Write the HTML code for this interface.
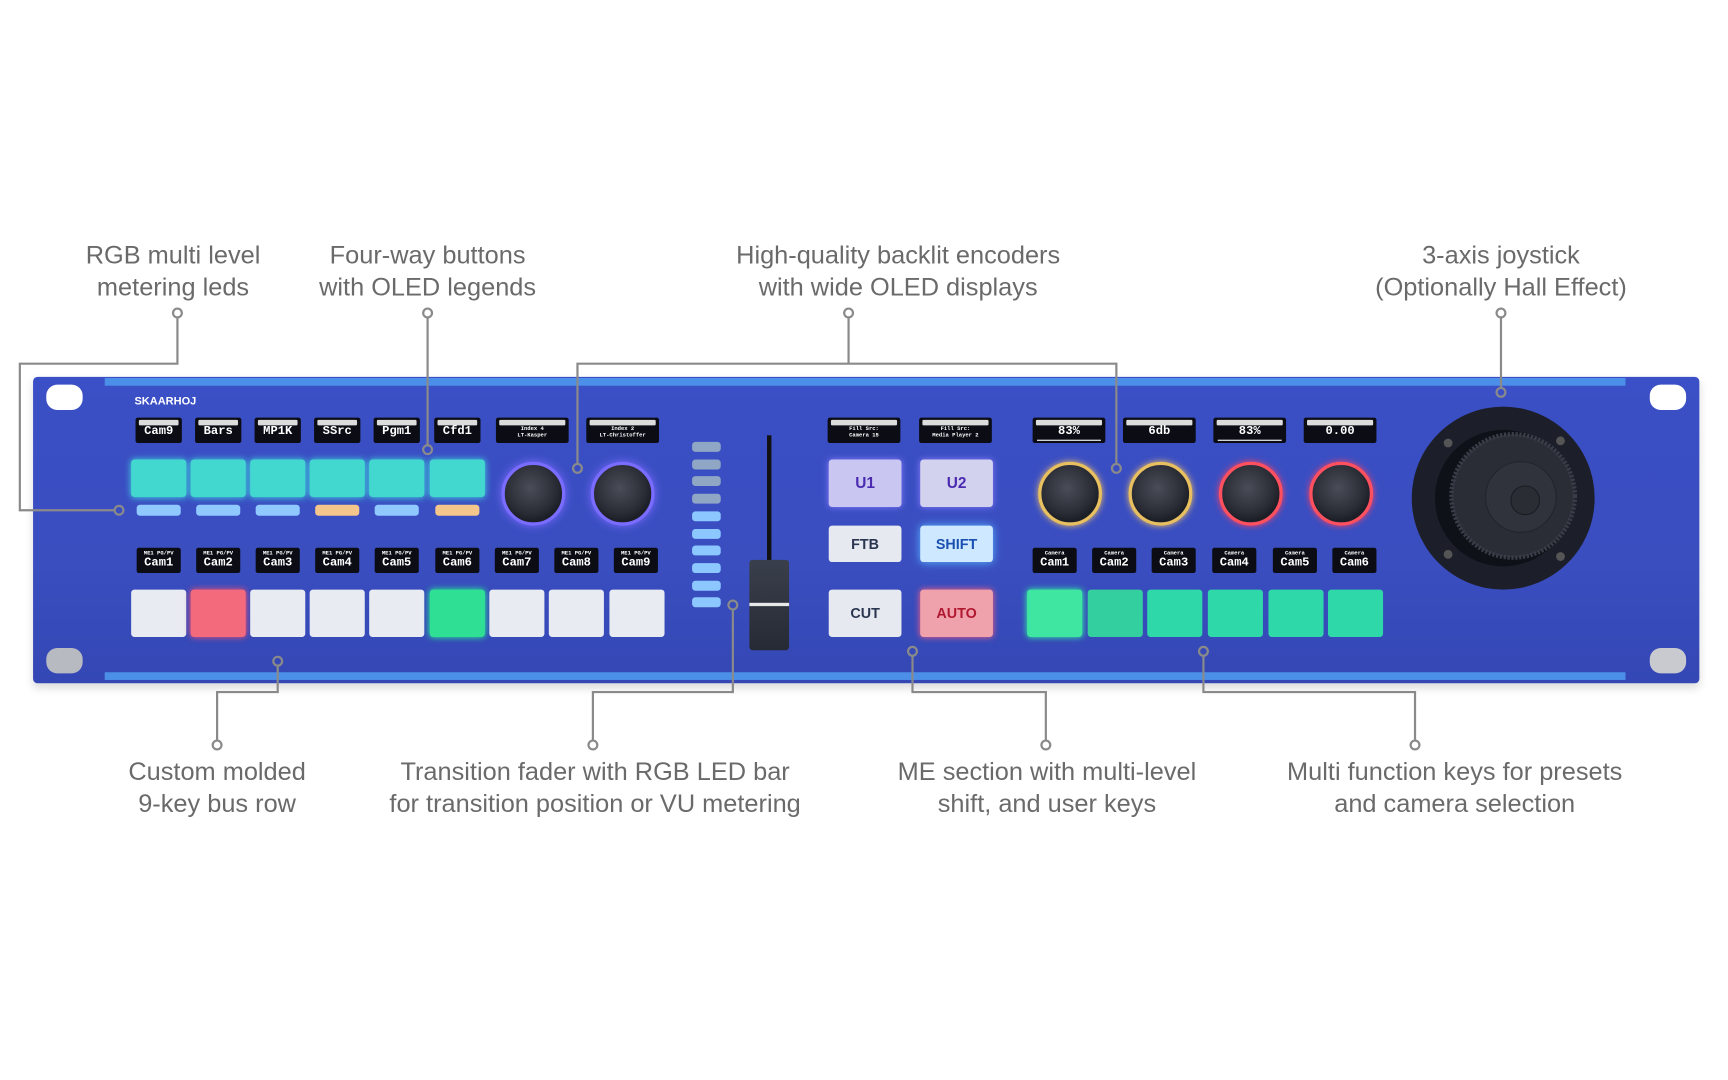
<!DOCTYPE html>
<html><head><meta charset="utf-8"><style>
html,body{margin:0;padding:0;background:#fff;width:1728px;height:1080px;overflow:hidden}
#s{position:absolute;left:0;top:0;width:1568px;height:980px;transform:scale(1.10204);transform-origin:0 0;font-family:"Liberation Sans",sans-serif}
.lbl{position:absolute;color:#6a6a6a;font-size:23px;line-height:29px;text-align:center;white-space:nowrap;transform:translateX(-50%)}
.a{position:absolute}
.oled{position:absolute;background:#0b0c14;border-radius:2px;color:#fff;font-family:"Liberation Mono",monospace;text-align:center;overflow:hidden}
.oled .t{margin:2px 3px 0;height:5px;background:#dcdcdc;border-radius:1px}
.oled .v{font-size:11px;line-height:13px;font-weight:bold}
.oled .sm{font-size:5px;line-height:6px;font-weight:bold}
.btn{position:absolute;border-radius:3px}
.enc{position:absolute;border-radius:50%;background:radial-gradient(circle at 45% 40%,#4a4d58 0,#2a2c35 55%,#1d1f27 70%)}
</style></head><body><div id="s">
<div class="lbl" style="left:157px;top:217px">RGB multi level<br>metering leds</div>
<div class="lbl" style="left:388px;top:217px">Four-way buttons<br>with OLED legends</div>
<div class="lbl" style="left:815px;top:217px">High-quality backlit encoders<br>with wide OLED displays</div>
<div class="lbl" style="left:1362px;top:217px">3-axis joystick<br>(Optionally Hall Effect)</div>
<div class="lbl" style="left:197px;top:686px">Custom molded<br>9-key bus row</div>
<div class="lbl" style="left:540px;top:686px">Transition fader with RGB LED bar<br>for transition position or VU metering</div>
<div class="lbl" style="left:950px;top:686px">ME section with multi-level<br>shift, and user keys</div>
<div class="lbl" style="left:1320px;top:686px">Multi function keys for presets<br>and camera selection</div>

<!-- panel -->
<div class="a" style="left:30px;top:342px;width:1512px;height:278px;background:linear-gradient(180deg,#3b4fc6,#3a4ec0 60%,#3447b4);border-radius:4px;box-shadow:0 4px 8px rgba(0,0,0,.15)"></div>
<div class="a" style="left:95px;top:343px;width:1380px;height:7px;background:#4c8fe8"></div>
<div class="a" style="left:95px;top:610px;width:1380px;height:7px;background:#4c8fe8"></div>
<div class="a" style="left:42px;top:349px;width:33px;height:23px;background:#fff;border-radius:10px"></div>
<div class="a" style="left:42px;top:588px;width:33px;height:23px;background:#b8bac2;border-radius:10px"></div>
<div class="a" style="left:1497px;top:349px;width:33px;height:23px;background:#fff;border-radius:10px"></div>
<div class="a" style="left:1497px;top:588px;width:33px;height:23px;background:#c8cad0;border-radius:10px"></div>
<div class="a" style="left:122px;top:359px;color:#fff;font-size:10px;font-weight:bold;letter-spacing:0">SKAARHOJ</div>

<!-- top OLEDs left -->
<div class="oled" style="left:123px;top:379px;width:42px;height:23px"><div class="t"></div><div class="v">Cam9</div></div>
<div class="oled" style="left:177px;top:379px;width:42px;height:23px"><div class="t"></div><div class="v">Bars</div></div>
<div class="oled" style="left:231px;top:379px;width:42px;height:23px"><div class="t"></div><div class="v">MP1K</div></div>
<div class="oled" style="left:285px;top:379px;width:42px;height:23px"><div class="t"></div><div class="v">SSrc</div></div>
<div class="oled" style="left:339px;top:379px;width:42px;height:23px"><div class="t"></div><div class="v">Pgm1</div></div>
<div class="oled" style="left:394px;top:379px;width:42px;height:23px"><div class="t"></div><div class="v">Cfd1</div></div>
<div class="oled" style="left:450px;top:379px;width:66px;height:23px"><div class="t"></div><div class="sm">Index 4<br>LT-Kasper</div></div>
<div class="oled" style="left:532px;top:379px;width:66px;height:23px"><div class="t"></div><div class="sm">Index 2<br>LT-Christoffer</div></div>

<!-- teal buttons -->
<div class="btn" style="left:119px;top:417px;width:50px;height:34px;background:#43d8cf;box-shadow:0 0 6px #3fe0e0"></div>
<div class="btn" style="left:173px;top:417px;width:50px;height:34px;background:#43d8cf;box-shadow:0 0 6px #3fe0e0"></div>
<div class="btn" style="left:227px;top:417px;width:50px;height:34px;background:#43d8cf;box-shadow:0 0 6px #3fe0e0"></div>
<div class="btn" style="left:281px;top:417px;width:50px;height:34px;background:#43d8cf;box-shadow:0 0 6px #3fe0e0"></div>
<div class="btn" style="left:335px;top:417px;width:50px;height:34px;background:#43d8cf;box-shadow:0 0 6px #3fe0e0"></div>
<div class="btn" style="left:390px;top:417px;width:50px;height:34px;background:#43d8cf;box-shadow:0 0 6px #3fe0e0"></div>
<!-- leds -->
<div class="btn" style="left:124px;top:458px;width:40px;height:10px;background:#8fc9ff"></div>
<div class="btn" style="left:178px;top:458px;width:40px;height:10px;background:#8fc9ff"></div>
<div class="btn" style="left:232px;top:458px;width:40px;height:10px;background:#8fc9ff"></div>
<div class="btn" style="left:286px;top:458px;width:40px;height:10px;background:#f5c68c"></div>
<div class="btn" style="left:340px;top:458px;width:40px;height:10px;background:#8fc9ff"></div>
<div class="btn" style="left:395px;top:458px;width:40px;height:10px;background:#f5c68c"></div>
<!-- purple encoders -->
<div class="enc" style="left:455px;top:419px;width:52px;height:52px;border:3px solid #7a6cff;box-shadow:0 0 8px #7d6aff"></div>
<div class="enc" style="left:536px;top:419px;width:52px;height:52px;border:3px solid #7a6cff;box-shadow:0 0 8px #7d6aff"></div>

<!-- bottom OLEDs -->
<div class="oled" style="left:124px;top:497px;width:40px;height:23px"><div class="sm" style="margin-top:2px">ME1 PG/PV</div><div class="v">Cam1</div></div>
<div class="oled" style="left:178px;top:497px;width:40px;height:23px"><div class="sm" style="margin-top:2px">ME1 PG/PV</div><div class="v">Cam2</div></div>
<div class="oled" style="left:232px;top:497px;width:40px;height:23px"><div class="sm" style="margin-top:2px">ME1 PG/PV</div><div class="v">Cam3</div></div>
<div class="oled" style="left:286px;top:497px;width:40px;height:23px"><div class="sm" style="margin-top:2px">ME1 PG/PV</div><div class="v">Cam4</div></div>
<div class="oled" style="left:340px;top:497px;width:40px;height:23px"><div class="sm" style="margin-top:2px">ME1 PG/PV</div><div class="v">Cam5</div></div>
<div class="oled" style="left:395px;top:497px;width:40px;height:23px"><div class="sm" style="margin-top:2px">ME1 PG/PV</div><div class="v">Cam6</div></div>
<div class="oled" style="left:449px;top:497px;width:40px;height:23px"><div class="sm" style="margin-top:2px">ME1 PG/PV</div><div class="v">Cam7</div></div>
<div class="oled" style="left:503px;top:497px;width:40px;height:23px"><div class="sm" style="margin-top:2px">ME1 PG/PV</div><div class="v">Cam8</div></div>
<div class="oled" style="left:557px;top:497px;width:40px;height:23px"><div class="sm" style="margin-top:2px">ME1 PG/PV</div><div class="v">Cam9</div></div>
<!-- bus buttons -->
<div class="btn" style="left:119px;top:535px;width:50px;height:43px;background:#e9ebf2"></div>
<div class="btn" style="left:173px;top:535px;width:50px;height:43px;background:#f26a7c;box-shadow:0 0 6px #ff5070"></div>
<div class="btn" style="left:227px;top:535px;width:50px;height:43px;background:#e9ebf2"></div>
<div class="btn" style="left:281px;top:535px;width:50px;height:43px;background:#e9ebf2"></div>
<div class="btn" style="left:335px;top:535px;width:50px;height:43px;background:#e9ebf2"></div>
<div class="btn" style="left:390px;top:535px;width:50px;height:43px;background:#2fe094;box-shadow:0 0 6px #20ff90"></div>
<div class="btn" style="left:444px;top:535px;width:50px;height:43px;background:#e9ebf2"></div>
<div class="btn" style="left:498px;top:535px;width:50px;height:43px;background:#e9ebf2"></div>
<div class="btn" style="left:553px;top:535px;width:50px;height:43px;background:#e9ebf2"></div>

<!-- LED bar -->
<div class="btn" style="left:628px;top:401px;width:26px;height:9px;background:#8fa6c4"></div>
<div class="btn" style="left:628px;top:417px;width:26px;height:9px;background:#8fa6c4"></div>
<div class="btn" style="left:628px;top:432px;width:26px;height:9px;background:#8fa6c4"></div>
<div class="btn" style="left:628px;top:448px;width:26px;height:9px;background:#8fa6c4"></div>
<div class="btn" style="left:628px;top:464px;width:26px;height:9px;background:#8cc8ff"></div>
<div class="btn" style="left:628px;top:480px;width:26px;height:9px;background:#8cc8ff"></div>
<div class="btn" style="left:628px;top:495px;width:26px;height:9px;background:#8cc8ff"></div>
<div class="btn" style="left:628px;top:511px;width:26px;height:9px;background:#8cc8ff"></div>
<div class="btn" style="left:628px;top:527px;width:26px;height:9px;background:#8cc8ff"></div>
<div class="btn" style="left:628px;top:542px;width:26px;height:9px;background:#8cc8ff"></div>
<!-- fader -->
<div class="a" style="left:696px;top:395px;width:4px;height:120px;background:#111"></div>
<div class="a" style="left:680px;top:508px;width:36px;height:82px;background:linear-gradient(180deg,#3a3f4c,#262a34);border-radius:3px"></div>
<div class="a" style="left:680px;top:547px;width:36px;height:3px;background:#e8e8e8"></div>

<!-- ME section -->
<div class="oled" style="left:751px;top:379px;width:66px;height:23px"><div class="t"></div><div class="sm">Fill Src:<br>Camera 15</div></div>
<div class="oled" style="left:834px;top:379px;width:66px;height:23px"><div class="t"></div><div class="sm">Fill Src:<br>Media Player 2</div></div>
<div class="btn" style="left:752px;top:417px;width:66px;height:43px;background:#c9c6f2;box-shadow:0 0 6px #8a7bff;color:#4a2bb0;font-weight:bold;font-size:14px;line-height:43px;text-align:center">U1</div>
<div class="btn" style="left:835px;top:417px;width:66px;height:43px;background:#d3d2ee;box-shadow:0 0 6px #8a7bff;color:#4a2bb0;font-weight:bold;font-size:14px;line-height:43px;text-align:center">U2</div>
<div class="btn" style="left:752px;top:477px;width:66px;height:33px;background:#e6e9f0;color:#2a3550;font-weight:bold;font-size:13px;line-height:33px;text-align:center">FTB</div>
<div class="btn" style="left:835px;top:477px;width:66px;height:33px;background:#cde8ff;box-shadow:0 0 8px #5ab4ff;color:#1a50b0;font-weight:bold;font-size:13px;line-height:33px;text-align:center">SHIFT</div>
<div class="btn" style="left:752px;top:535px;width:66px;height:43px;background:#e6e9f0;color:#2a3550;font-weight:bold;font-size:13px;line-height:43px;text-align:center">CUT</div>
<div class="btn" style="left:835px;top:535px;width:66px;height:43px;background:#f0a2ac;box-shadow:0 0 6px #ff6080;color:#b01830;font-weight:bold;font-size:13px;line-height:43px;text-align:center">AUTO</div>

<!-- right OLEDs -->
<div class="oled" style="left:937px;top:379px;width:66px;height:23px"><div class="t"></div><div class="v" style="border-bottom:1px solid #fff;margin:0 4px">83%</div></div>
<div class="oled" style="left:1019px;top:379px;width:66px;height:23px"><div class="t"></div><div class="v">6db</div></div>
<div class="oled" style="left:1101px;top:379px;width:66px;height:23px"><div class="t"></div><div class="v" style="border-bottom:1px solid #fff;margin:0 4px">83%</div></div>
<div class="oled" style="left:1183px;top:379px;width:66px;height:23px"><div class="t"></div><div class="v">0.00</div></div>
<div class="enc" style="left:942px;top:419px;width:52px;height:52px;border:3px solid #e8c060;box-shadow:0 0 6px #f0c060"></div>
<div class="enc" style="left:1024px;top:419px;width:52px;height:52px;border:3px solid #e8c060;box-shadow:0 0 6px #f0c060"></div>
<div class="enc" style="left:1106px;top:419px;width:52px;height:52px;border:3px solid #ff5060;box-shadow:0 0 6px #ff4060"></div>
<div class="enc" style="left:1188px;top:419px;width:52px;height:52px;border:3px solid #ff5060;box-shadow:0 0 6px #ff4060"></div>

<div class="oled" style="left:937px;top:497px;width:40px;height:23px"><div class="sm" style="margin-top:2px">Camera</div><div class="v">Cam1</div></div>
<div class="oled" style="left:991px;top:497px;width:40px;height:23px"><div class="sm" style="margin-top:2px">Camera</div><div class="v">Cam2</div></div>
<div class="oled" style="left:1045px;top:497px;width:40px;height:23px"><div class="sm" style="margin-top:2px">Camera</div><div class="v">Cam3</div></div>
<div class="oled" style="left:1100px;top:497px;width:40px;height:23px"><div class="sm" style="margin-top:2px">Camera</div><div class="v">Cam4</div></div>
<div class="oled" style="left:1155px;top:497px;width:40px;height:23px"><div class="sm" style="margin-top:2px">Camera</div><div class="v">Cam5</div></div>
<div class="oled" style="left:1209px;top:497px;width:40px;height:23px"><div class="sm" style="margin-top:2px">Camera</div><div class="v">Cam6</div></div>
<div class="btn" style="left:932px;top:535px;width:50px;height:43px;background:#3ee6a2;box-shadow:0 0 6px #30ffa0"></div>
<div class="btn" style="left:987px;top:535px;width:50px;height:43px;background:#34cf9e"></div>
<div class="btn" style="left:1041px;top:535px;width:50px;height:43px;background:#2fd8a8"></div>
<div class="btn" style="left:1096px;top:535px;width:50px;height:43px;background:#2fd8a8"></div>
<div class="btn" style="left:1151px;top:535px;width:50px;height:43px;background:#2fd8a8"></div>
<div class="btn" style="left:1205px;top:535px;width:50px;height:43px;background:#2fd8a8"></div>

<!-- joystick -->
<svg class="a" style="left:1270px;top:360px" width="190" height="190" viewBox="0 0 190 190">
<circle cx="94" cy="92" r="83" fill="#1c1f2a"/>
<circle cx="94" cy="92" r="62" fill="#0f1118"/>
<circle cx="103" cy="90" r="56" fill="#2a2d36" stroke="#3a3d48" stroke-width="4" stroke-dasharray="2 1.5"/>
<circle cx="110" cy="91" r="32" fill="#30333c" stroke="#22242c"/>
<circle cx="114" cy="94" r="13" fill="#2a2d34" stroke="#1a1c22"/>
<circle cx="44" cy="42" r="4" fill="#555"/><circle cx="146" cy="40" r="4" fill="#555"/>
<circle cx="44" cy="143" r="4" fill="#555"/><circle cx="146" cy="145" r="4" fill="#555"/>
</svg>

<!-- connectors -->
<svg class="a" style="left:0;top:0" width="1568" height="980">
<g fill="none" stroke="#8a8a8a" stroke-width="2">
<polyline points="161,288 161,330 18,330 18,463 104,463"/>
<circle cx="161" cy="284" r="4"/><circle cx="108" cy="463" r="4"/>
<line x1="388" y1="288" x2="388" y2="404"/><circle cx="388" cy="284" r="4"/><circle cx="388" cy="408" r="4"/>
<polyline points="524,421 524,330 1013,330 1013,421"/><line x1="770" y1="288" x2="770" y2="330"/>
<circle cx="770" cy="284" r="4"/><circle cx="524" cy="425" r="4"/><circle cx="1013" cy="425" r="4"/>
<line x1="1362" y1="288" x2="1362" y2="352"/><circle cx="1362" cy="284" r="4"/><circle cx="1362" cy="356" r="4"/>
<polyline points="252,604 252,628 197,628 197,672"/><circle cx="252" cy="600" r="4"/><circle cx="197" cy="676" r="4"/>
<polyline points="665,553 665,628 538,628 538,672"/><circle cx="665" cy="549" r="4"/><circle cx="538" cy="676" r="4"/>
<polyline points="828,595 828,628 949,628 949,672"/><circle cx="828" cy="591" r="4"/><circle cx="949" cy="676" r="4"/>
<polyline points="1092,595 1092,628 1284,628 1284,672"/><circle cx="1092" cy="591" r="4"/><circle cx="1284" cy="676" r="4"/>
</g></svg>
</div></body></html>
